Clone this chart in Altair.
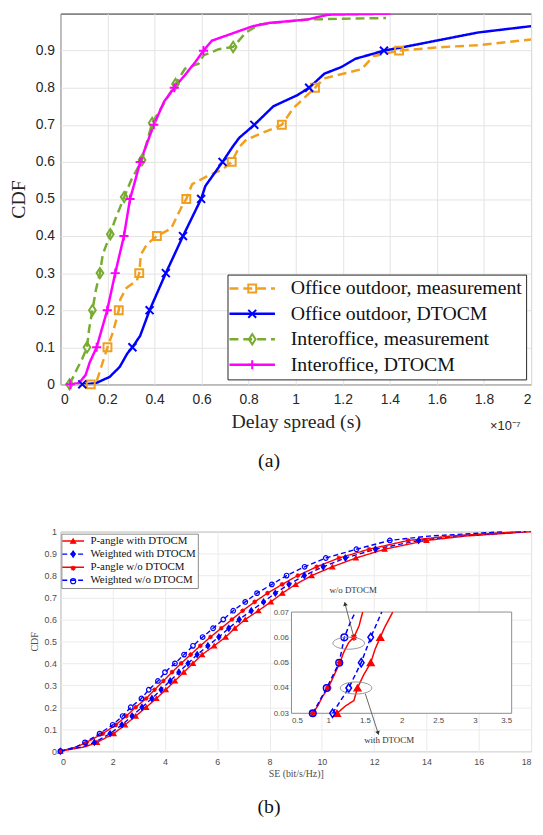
import altair as alt
import pandas as pd

SERIF = "Liberation Serif"
SANS = "Liberation Sans"

# ---------------- (a) Delay spread CDF ----------------
a_names = ["Office outdoor, measurement", "Office outdoor, DTOCM",
           "Interoffice, measurement", "Interoffice, DTOCM"]
a_colors = ["#F0A01E", "#0000FF", "#77AC30", "#FF00FF"]
a_dashes = [[9, 5], [1, 0], [9, 5], [1, 0]]
a_shapes = ["square",
            "M-1,-1L1,1M-1,1L1,-1",
            "M0,-1.3L0.85,0L0,1.3L-0.85,0Z",
            "M-1.15,0L1.15,0M0,-1.15L0,1.15"]

# x in units of 1e-7 s
oo_meas_x = [0.10, 0.129, 0.155, 0.17, 0.185, 0.2, 0.223, 0.24, 0.248, 0.255, 0.281, 0.325,
             0.335, 0.342, 0.368, 0.41, 0.47, 0.52, 0.535, 0.56, 0.62, 0.69, 0.728, 0.76,
             0.79, 0.941, 0.99, 1.082, 1.12, 1.28, 1.33, 1.439, 1.63, 1.78, 2.0]
oo_meas_y = [0.0, 0.0, 0.01, 0.04, 0.07, 0.1, 0.14, 0.18, 0.2, 0.23, 0.26, 0.28,
             0.3, 0.35, 0.378, 0.4, 0.42, 0.485, 0.5, 0.54, 0.56, 0.58, 0.6, 0.64,
             0.66, 0.7, 0.745, 0.8, 0.825, 0.85, 0.885, 0.9, 0.91, 0.915, 0.93]
oo_dt_x = [0.093, 0.15, 0.209, 0.252, 0.284, 0.306, 0.339, 0.379, 0.448, 0.521, 0.598, 0.616,
           0.689, 0.731, 0.76, 0.824, 0.905, 0.949, 1.007, 1.057, 1.122, 1.195, 1.253, 1.375,
           1.485, 1.63, 1.775, 2.0]
oo_dt_y = [0.0, 0.003, 0.02, 0.047, 0.083, 0.1, 0.131, 0.2, 0.3, 0.4, 0.5, 0.535,
           0.6, 0.64, 0.665, 0.7, 0.75, 0.763, 0.78, 0.8, 0.838, 0.856, 0.878, 0.9,
           0.913, 0.931, 0.949, 0.966]
io_meas_x = [0.039, 0.071, 0.093, 0.113, 0.122, 0.136, 0.151, 0.168, 0.18, 0.212, 0.23, 0.271,
             0.30, 0.347, 0.369, 0.39, 0.428, 0.489, 0.529, 0.587, 0.608, 0.673, 0.734, 0.789,
             0.847, 1.05, 1.195, 1.384]
io_meas_y = [0.0, 0.042, 0.069, 0.1, 0.149, 0.2, 0.255, 0.3, 0.35, 0.405, 0.44, 0.505,
             0.55, 0.605, 0.657, 0.705, 0.745, 0.81, 0.851, 0.865, 0.887, 0.904, 0.91, 0.949,
             0.971, 0.984, 0.986, 0.988]
io_dt_x = [0.042, 0.078, 0.107, 0.125, 0.154, 0.199, 0.233, 0.27, 0.296, 0.318, 0.339, 0.397,
           0.441, 0.484, 0.529, 0.573, 0.608, 0.644, 0.702, 0.818, 0.89, 1.05, 1.137, 1.405]
io_dt_y = [0.0, 0.003, 0.025, 0.06, 0.1, 0.2, 0.3, 0.4, 0.5, 0.55, 0.6, 0.7,
           0.763, 0.8, 0.834, 0.869, 0.9, 0.927, 0.94, 0.966, 0.975, 0.984, 0.997, 1.0]

a_levels = [0.0, 0.1, 0.2, 0.3, 0.4, 0.5, 0.6, 0.7, 0.8, 0.9]
oo_meas_mx = [0.129, 0.2, 0.248, 0.335, 0.41, 0.535, 0.728, 0.941, 1.082, 1.439]
oo_dt_mx = [0.093, 0.306, 0.379, 0.448, 0.521, 0.598, 0.689, 0.824, 1.057, 1.375]
io_meas_mx = [0.039, 0.113, 0.136, 0.168, 0.212, 0.271, 0.347, 0.39, 0.489, 0.734]
io_meas_my = [0.0, 0.1, 0.2, 0.3, 0.405, 0.505, 0.605, 0.705, 0.81, 0.91]
io_dt_mx = [0.042, 0.154, 0.199, 0.233, 0.27, 0.296, 0.339, 0.397, 0.484, 0.608]

a_xticks = [0, 0.2, 0.4, 0.6, 0.8, 1, 1.2, 1.4, 1.6, 1.8, 2]
a_yticks = [0, 0.1, 0.2, 0.3, 0.4, 0.5, 0.6, 0.7, 0.8, 0.9]

# ---------------- (b) SE CDF ----------------
b_names = ["P-angle with DTOCM", "Weighted with DTOCM",
           "P-angle w/o DTOCM", "Weighted w/o DTOCM"]
b_colors = ["#FF0000", "#0000FF", "#FF0000", "#0000FF"]
b_fills = ["#FF0000", "#0000FF", "transparent", "transparent"]
b_dashes = [[1, 0], [5, 3], [1, 0], [5, 3]]
b_shapes = ["triangle-up",
            "M0,-1.25L0.85,0L0,1.25L-0.85,0Z",
            "M-1,0L1,0M0,-1L0,1M-0.7,-0.7L0.7,0.7M-0.7,0.7L0.7,-0.7",
            "circle"]

b_levels = [0.0, 0.02, 0.04, 0.08, 0.12, 0.16, 0.2, 0.24, 0.28, 0.32, 0.36, 0.4, 0.44, 0.48,
            0.52, 0.56, 0.6, 0.64, 0.68, 0.72, 0.76, 0.8, 0.84, 0.88, 0.92, 0.96, 0.98, 1.0]
b_marker_levels = [0.0, 0.04, 0.08, 0.12, 0.16, 0.2, 0.24, 0.28, 0.32, 0.36, 0.4, 0.44, 0.48,
                   0.52, 0.56, 0.6, 0.64, 0.68, 0.72, 0.76, 0.8, 0.84, 0.88, 0.92, 0.96]
pa_with_x = [0, 0.95, 1.4, 2.04, 2.47, 2.88, 3.28, 3.67, 4.03, 4.38, 4.72, 5.07, 5.42, 5.88,
             6.32, 6.67, 7.07, 7.57, 8.05, 8.49, 9.0, 9.61, 10.4, 11.3, 12.4, 14.0, 15.5, 18.0]
w_with_x = [0, 0.85, 1.3, 1.9, 2.35, 2.74, 3.12, 3.5, 3.85, 4.2, 4.53, 4.88, 5.23, 5.64,
            6.06, 6.44, 6.84, 7.3, 7.77, 8.22, 8.74, 9.33, 10.05, 10.9, 12.05, 13.7, 15.1, 17.8]
pa_wo_x = [0, 0.62, 1.0, 1.62, 2.12, 2.52, 2.88, 3.28, 3.6, 3.94, 4.27, 4.62, 4.98, 5.35,
           5.74, 6.15, 6.56, 6.97, 7.43, 7.92, 8.48, 9.08, 9.8, 10.65, 11.8, 13.3, 14.9, 17.6]
w_wo_x = [0, 0.6, 0.94, 1.5, 2.0, 2.38, 2.69, 3.1, 3.38, 3.73, 4.0, 4.38, 4.73, 5.07,
          5.44, 5.84, 6.23, 6.61, 7.07, 7.52, 8.09, 8.65, 9.34, 10.15, 11.32, 12.6, 14.1, 17.0]

b_xticks = [0, 2, 4, 6, 8, 10, 12, 14, 16, 18]
b_yticks = [0, 0.1, 0.2, 0.3, 0.4, 0.5, 0.6, 0.7, 0.8, 0.9, 1]

# inset (zoom on CDF 0.03-0.07)
in_pa_with_x = [1.12, 1.24, 1.35, 1.40, 1.48, 1.58, 1.64, 1.71, 1.77, 1.88]
in_pa_with_y = [0.03, 0.033, 0.035, 0.04, 0.045, 0.05, 0.0554, 0.06, 0.064, 0.07]
in_w_with_x = [1.06, 1.28, 1.45, 1.58, 1.73]
in_w_with_y = [0.03, 0.04, 0.05, 0.06, 0.07]
in_pa_wo_x = [0.79, 0.86, 0.92, 1.0, 1.08, 1.16, 1.21, 1.28, 1.35, 1.42, 1.47]
in_pa_wo_y = [0.03, 0.033, 0.0365, 0.04, 0.045, 0.05, 0.054, 0.058, 0.06, 0.0645, 0.07]
in_w_wo_x = [0.79, 0.98, 1.15, 1.22, 1.30, 1.37]
in_w_wo_y = [0.03, 0.04, 0.05, 0.06, 0.0658, 0.07]
in_marker_levels = [0.03, 0.04, 0.05, 0.06]
in_xticks = [0.5, 1, 1.5, 2, 2.5, 3, 3.5]
in_yticks = [0.03, 0.04, 0.05, 0.06, 0.07]

ell_x = [1.28, 1.38]
ell_y = [0.0577, 0.0400]
arr_x = [1.35, 1.505]
arr_y = [0.0600, 0.0378]
arr_x2 = [1.23, 1.68]
arr_y2 = [0.0733, 0.0222]
arr_angle = [347, 162]
lab_text = ["w/o DTOCM", "with DTOCM"]
lab_x = [1.34, 1.83]
lab_y = [0.0788, 0.0196]

# ---------------- layout constants ----------------
W = 476
HA = 375
HB = 222
IX0, IX1 = 233.7, 456.4
IY0, IY1 = 183.7, 81.3
SUF = " "   # marker-legend domain tag (keeps the marker legend separate from the line legend)


def rows(name, xs, ys, only=None):
    out = []
    for i, (x, y) in enumerate(zip(xs, ys)):
        if only is None or y in only:
            out.append({"series": name, "series_m": name + SUF, "x": x, "y": y, "i": i})
    return out


a_names_m = [n + SUF for n in a_names]
b_names_m = [n + SUF for n in b_names]

# ---------- (a) ----------
a_line_df = pd.DataFrame(rows(a_names[0], oo_meas_x, oo_meas_y) + rows(a_names[1], oo_dt_x, oo_dt_y)
                         + rows(a_names[2], io_meas_x, io_meas_y) + rows(a_names[3], io_dt_x, io_dt_y))
a_mark_df = pd.DataFrame(rows(a_names[0], oo_meas_mx, a_levels) + rows(a_names[1], oo_dt_mx, a_levels)
                         + rows(a_names[2], io_meas_mx, io_meas_my) + rows(a_names[3], io_dt_mx, a_levels))

leg_common_a = dict(title=None, orient="none", legendX=169, legendY=264, direction="vertical",
                    symbolSize=64, symbolOffset=11, labelOffset=29, labelFont=SERIF,
                    labelFontSize=20, labelLimit=400, padding=4, rowPadding=5.7)
leg_a_line = alt.Legend(symbolType="M-5.75,0L5.75,0", symbolStrokeWidth=2.5, labelColor="#111111",
                        strokeColor="#262626", fillColor="#FFFFFF", zindex=1, **leg_common_a)
leg_a_mark = alt.Legend(symbolStrokeWidth=2, labelOpacity=0, labelExpr="''", zindex=2, **leg_common_a)

xa = alt.X("x:Q", scale=alt.Scale(domain=[0, 2], nice=False, zero=False),
           axis=alt.Axis(values=a_xticks, format="~g", title="Delay spread (s)", titleFont=SERIF,
                         titleFontSize=20, titleFontWeight="normal", titleColor="#262626", titlePadding=6,
                         labelFont=SANS, labelFontSize=14, labelColor="#262626", labelPadding=8,
                         ticks=False, domain=False, grid=True, gridColor="#E3E3E3"))
ya = alt.Y("y:Q", scale=alt.Scale(domain=[0, 1], nice=False, zero=False),
           axis=alt.Axis(values=a_yticks, format="~g", title="CDF", titleFont=SERIF,
                         titleFontSize=20, titleFontWeight="normal", titleColor="#262626", titlePadding=7,
                         labelFont=SANS, labelFontSize=14, labelColor="#262626", labelPadding=6,
                         ticks=False, domain=False, grid=True, gridColor="#E3E3E3"))

a_lines = alt.Chart(a_line_df).mark_line(strokeWidth=2.5, clip=True).encode(
    x=xa, y=ya,
    color=alt.Color("series:N", scale=alt.Scale(domain=a_names, range=a_colors), legend=leg_a_line),
    strokeDash=alt.StrokeDash("series:N", scale=alt.Scale(domain=a_names, range=a_dashes), legend=leg_a_line),
    order="i:Q")
a_pts = alt.Chart(a_mark_df).mark_point(filled=False, size=64, strokeWidth=2, opacity=1).encode(
    x=xa, y=ya,
    stroke=alt.Stroke("series_m:N", scale=alt.Scale(domain=a_names_m, range=a_colors), legend=leg_a_mark),
    shape=alt.Shape("series_m:N", scale=alt.Scale(domain=a_names_m, range=a_shapes), legend=leg_a_mark))
a_exp = alt.Chart(pd.DataFrame({"t": ["×10⁻⁷"]})).mark_text(
    font=SANS, fontSize=13, color="#262626", align="center", baseline="middle").encode(
    x=alt.value(W - 26), y=alt.value(HA + 42), text="t:N")

chart_a = alt.layer(a_lines, a_pts, a_exp).properties(
    width=W, height=HA,
    title=alt.TitleParams(text="(a)", orient="bottom", font=SERIF, fontSize=20, fontWeight="normal",
                          color="#111111", offset=19, anchor="middle", frame="group", dx=-27),
    view=alt.ViewBackground(stroke="#262626", strokeWidth=1))

# ---------- (b) ----------
b_xs = [pa_with_x, w_with_x, pa_wo_x, w_wo_x]
b_line_rows, b_mark_rows = [], []
for nm, xs in zip(b_names, b_xs):
    b_line_rows += rows(nm, xs, b_levels)
    b_mark_rows += rows(nm, xs, b_levels, only=b_marker_levels)
b_line_df = pd.DataFrame(b_line_rows)
b_mark_df = pd.DataFrame(b_mark_rows)

in_xs = [in_pa_with_x, in_w_with_x, in_pa_wo_x, in_w_wo_x]
in_ys = [in_pa_with_y, in_w_with_y, in_pa_wo_y, in_w_wo_y]
in_line_rows, in_mark_rows = [], []
for nm, xs, ys in zip(b_names, in_xs, in_ys):
    in_line_rows += rows(nm, xs, ys)
    in_mark_rows += rows(nm, xs, ys, only=in_marker_levels)
in_line_df = pd.DataFrame(in_line_rows)
in_mark_df = pd.DataFrame(in_mark_rows)

leg_common_b = dict(title=None, orient="none", legendX=1, legendY=2, direction="vertical",
                    symbolOffset=4.4, labelOffset=12, labelFont=SERIF, labelFontSize=11,
                    labelLimit=300, padding=2, rowPadding=1.2)
leg_b_line = alt.Legend(symbolType="M-5.5,0L5.5,0", symbolSize=16, symbolStrokeWidth=1.5,
                        labelColor="#111111", strokeColor="#8C8C8C", fillColor="#FFFFFF", zindex=1,
                        **leg_common_b)
leg_b_mark = alt.Legend(symbolSize=26, symbolStrokeWidth=1.2, labelOpacity=0, labelExpr="''",
                        zindex=2, **leg_common_b)

b_color = alt.Color("series:N", scale=alt.Scale(domain=b_names, range=b_colors), legend=leg_b_line)
b_dash = alt.StrokeDash("series:N", scale=alt.Scale(domain=b_names, range=b_dashes), legend=leg_b_line)
b_stroke = alt.Stroke("series_m:N", scale=alt.Scale(domain=b_names_m, range=b_colors), legend=leg_b_mark)
b_shape = alt.Shape("series_m:N", scale=alt.Scale(domain=b_names_m, range=b_shapes), legend=leg_b_mark)
b_fill = alt.Fill("series_m:N", scale=alt.Scale(domain=b_names_m, range=b_fills), legend=leg_b_mark)

xb = alt.X("x:Q", scale=alt.Scale(domain=[0, 18], nice=False, zero=False),
           axis=alt.Axis(values=b_xticks, format="~g", title="SE (bit/s/Hz)]", titleFont=SERIF,
                         titleFontSize=10, titleFontWeight="normal", titleColor="#4D4D4D", titlePadding=3,
                         labelFont=SANS, labelFontSize=9, labelColor="#4D4D4D", labelPadding=6,
                         ticks=False, domain=False, grid=True, gridColor="#EBEBEB"))
yb = alt.Y("y:Q", scale=alt.Scale(domain=[0, 1], nice=False, zero=False),
           axis=alt.Axis(values=b_yticks, format="~g", title="CDF", titleFont=SERIF,
                         titleFontSize=10, titleFontWeight="normal", titleColor="#4D4D4D", titlePadding=5,
                         labelFont=SANS, labelFontSize=9, labelColor="#4D4D4D", labelPadding=4,
                         ticks=False, domain=False, grid=True, gridColor="#EBEBEB"))

b_lines = alt.Chart(b_line_df).mark_line(strokeWidth=1.4).encode(
    x=xb, y=yb, color=b_color, strokeDash=b_dash, order="i:Q")
b_pts = alt.Chart(b_mark_df).mark_point(filled=False, size=22, strokeWidth=1.2, opacity=1).encode(
    x=xb, y=yb, stroke=b_stroke, shape=b_shape, fill=b_fill)
main_b = alt.layer(b_lines, b_pts)

xi = alt.X("x:Q", scale=alt.Scale(domain=[0.5, 3.5], range=[IX0, IX1], nice=False, zero=False),
           axis=alt.Axis(orient="bottom", offset=-(HB - IY0), values=in_xticks, format="~g", title=None,
                         grid=False, domain=False, ticks=False, labelFont=SANS, labelFontSize=8,
                         labelColor="#4D4D4D", labelPadding=3))
yi = alt.Y("y:Q", scale=alt.Scale(domain=[0.03, 0.07], range=[IY0, IY1], nice=False, zero=False),
           axis=alt.Axis(orient="left", offset=-IX0, values=in_yticks, format=".2f", title=None,
                         grid=False, domain=False, ticks=False, labelFont=SANS, labelFontSize=8,
                         labelColor="#4D4D4D", labelPadding=3))

frame_df = pd.DataFrame({"x": [in_xticks[0]], "x2": [in_xticks[-1]],
                         "y": [in_yticks[0]], "y2": [in_yticks[-1]]})
in_frame = alt.Chart(frame_df).mark_rect(fill="#FFFFFF", stroke="#8C8C8C", strokeWidth=1).encode(
    x=xi, x2="x2:Q", y=yi, y2="y2:Q")
in_lines = alt.Chart(in_line_df).mark_line(strokeWidth=1.5).encode(
    x=xi, y=yi, color=b_color, strokeDash=b_dash, order="i:Q")
in_pts = alt.Chart(in_mark_df).mark_point(filled=False, size=45, strokeWidth=1.5, opacity=1).encode(
    x=xi, y=yi, stroke=b_stroke, shape=b_shape,
    fill=alt.condition(alt.datum.series == b_names[0], alt.value(b_colors[0]), alt.value("transparent")))
ell = alt.Chart(pd.DataFrame({"x": ell_x, "y": ell_y})).mark_point(
    shape="M-1,0A1,0.38 0 1,1 1,0A1,0.38 0 1,1 -1,0Z", size=1024, filled=False,
    stroke="#8C8C8C", strokeWidth=0.9, opacity=1).encode(x=xi, y=yi)
arrows = alt.Chart(pd.DataFrame({"x": arr_x, "y": arr_y, "x2": arr_x2, "y2": arr_y2})).mark_rule(
    color="#555555", strokeWidth=0.9).encode(x=xi, y=yi, x2="x2:Q", y2="y2:Q")
heads = alt.Chart(pd.DataFrame({"x": arr_x2, "y": arr_y2, "a": arr_angle})).mark_point(
    shape="triangle-up", size=22, filled=True, color="#333333", opacity=1).encode(
    x=xi, y=yi, angle=alt.Angle("a:Q", scale=None))
labs = alt.Chart(pd.DataFrame({"x": lab_x, "y": lab_y, "t": lab_text})).mark_text(
    font=SERIF, fontSize=9, color="#333333").encode(x=xi, y=yi, text="t:N")
inset = alt.layer(in_frame, in_lines, in_pts, ell, arrows, heads, labs)

chart_b = alt.layer(main_b, inset).resolve_scale(x="independent", y="independent").properties(
    width=W, height=HB,
    title=alt.TitleParams(text="(b)", orient="bottom", font=SERIF, fontSize=20, fontWeight="normal",
                          color="#111111", offset=19, anchor="middle", frame="group", dx=-27),
    view=alt.ViewBackground(stroke="#8C8C8C", strokeWidth=1))

chart = alt.vconcat(chart_a, chart_b, spacing=55).resolve_scale(
    x="independent", y="independent", color="independent", strokeDash="independent",
    stroke="independent", shape="independent", fill="independent").properties(
    padding={"left": 0, "right": 0, "top": 0, "bottom": 0}, background="#FFFFFF")

chart.save("out.html", embed_options={"renderer": "svg", "actions": False})
